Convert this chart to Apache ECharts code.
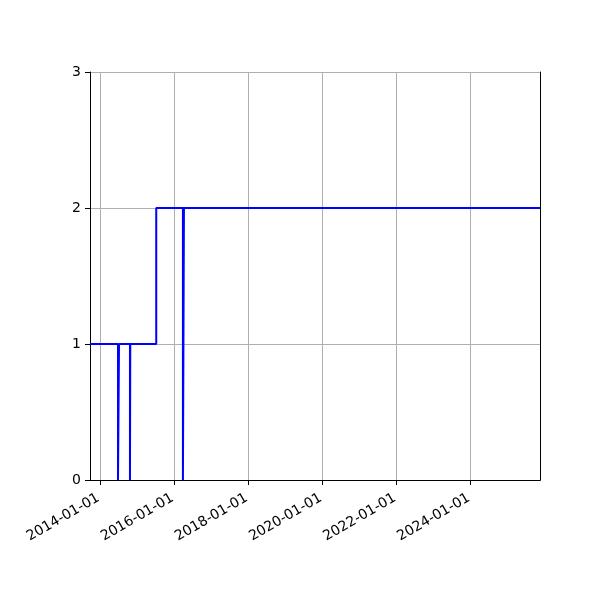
<!DOCTYPE html>
<html>
<head>
<meta charset="utf-8">
<script src="https://cdn.jsdelivr.net/npm/echarts@6/dist/echarts.min.js"></script>
<style>
  html, body { margin: 0; padding: 0; background: #fff; }
  #main { width: 600px; height: 600px; }
</style>
</head>
<body>
<div id="main"></div>
<script>
// step series: change dates and the level held from each date on
const dates = ['2013-09-22', '2014-06-25', '2014-07-05', '2014-10-21', '2014-10-24',
  '2015-07-07', '2016-03-26', '2016-04-05', '2025-11-14'];
const levels = [1, 0, 1, 0, 1, 2, 0, 2, 2];
const xTicks = ['2014-01-01', '2016-01-01', '2018-01-01', '2020-01-01', '2022-01-01', '2024-01-01'];
const yTicks = [0, 1, 2, 3];

const ts = function (s) { return Date.parse(s); };
const fmtDate = function (v) { return new Date(v).toISOString().slice(0, 10); };

const chart = echarts.init(document.getElementById('main'));
const font = 'DejaVu Sans';

// x is a plain value axis over timestamps so custom tick dates can be used
const option = {
  backgroundColor: '#fff',
  animation: false,
  grid: {
    left: 90,
    right: 60,
    top: 72,
    bottom: 120,
    containLabel: false,
    outerBoundsMode: 'none'
  },
  xAxis: [{
    type: 'value',
    scale: true,
    min: ts(dates[0]),
    max: ts(dates[dates.length - 1]),
    axisLine: { lineStyle: { color: '#000', width: 1 } },
    axisTick: {
      show: true,
      length: 5,
      lineStyle: { color: '#000', width: 1 },
      customValues: xTicks.map(ts)
    },
    axisLabel: {
      rotate: 30,
      margin: 16,
      padding: [0, 2, 0, 0],
      color: '#000',
      fontFamily: font,
      fontSize: 14,
      customValues: xTicks.map(ts),
      formatter: fmtDate
    },
    splitLine: { show: true, lineStyle: { color: '#b0b0b0', width: 1 } }
  }, {
    type: 'value',
    position: 'top',
    min: ts(dates[0]),
    max: ts(dates[dates.length - 1]),
    axisLine: { show: true, lineStyle: { color: '#000', width: 1 } },
    axisTick: { show: false },
    axisLabel: { show: false },
    splitLine: { show: false }
  }],
  yAxis: [{
    type: 'value',
    min: yTicks[0],
    max: yTicks[yTicks.length - 1],
    interval: 1,
    axisLine: { show: true, lineStyle: { color: '#000', width: 1 } },
    axisTick: { show: true, length: 5, lineStyle: { color: '#000', width: 1 } },
    axisLabel: { margin: 9, color: '#000', fontFamily: font, fontSize: 14 },
    splitLine: { show: true, lineStyle: { color: '#b0b0b0', width: 1 } }
  }, {
    type: 'value',
    position: 'right',
    min: yTicks[0],
    max: yTicks[yTicks.length - 1],
    interval: 1,
    axisLine: { show: true, lineStyle: { color: '#000', width: 1 } },
    axisTick: { show: false },
    axisLabel: { show: false },
    splitLine: { show: false }
  }],
  series: [{
    type: 'line',
    step: 'end',
    showSymbol: false,
    symbol: 'none',
    data: dates.map(function (d, i) { return [ts(d), levels[i]]; }),
    lineStyle: { color: '#0000ff', width: 2 },
    itemStyle: { color: '#0000ff' }
  }]
};

chart.setOption(option);
</script>
</body>
</html>
